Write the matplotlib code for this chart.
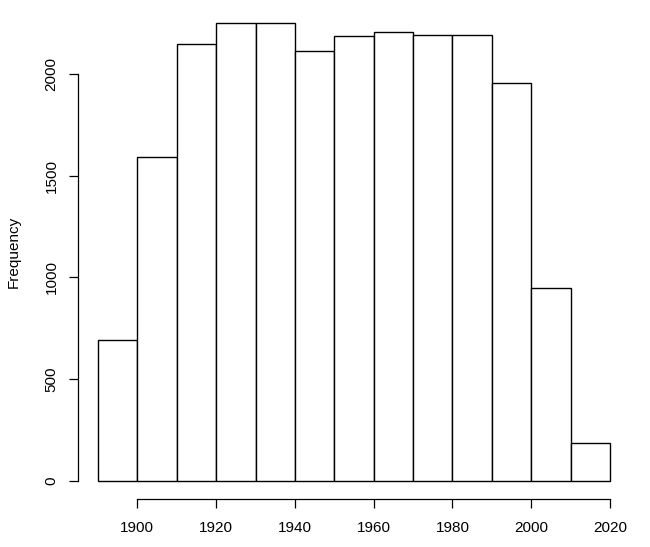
import matplotlib
matplotlib.use("Agg")
import matplotlib.pyplot as plt

breaks = [1890, 1900, 1910, 1920, 1930, 1940, 1950, 1960, 1970, 1980, 1990, 2000, 2010, 2020]
counts = [691, 1590, 2148, 2250, 2250, 2112, 2186, 2205, 2190, 2190, 1954, 950, 187]
xticks = [1900, 1920, 1940, 1960, 1980, 2000, 2020]
yticks = [0, 500, 1000, 1500, 2000]

plt.rcParams['font.family'] = ['Liberation Sans', 'DejaVu Sans']

W, H = 650, 547
fig = plt.figure(figsize=(W / 100, H / 100), dpi=100)
left, right, bottom, top = 77.5, 630.5, 499, 5
ax = fig.add_axes([left / W, (H - bottom) / H, (right - left) / W, (bottom - top) / H])

ax.hist(breaks[:-1], bins=breaks, weights=counts, facecolor='white',
        edgecolor='black', linewidth=1.0)

span = breaks[-1] - breaks[0]
ax.set_xlim(breaks[0] - 0.04 * span, breaks[-1] + 0.04 * span)
ymax = max(counts)
ax.set_ylim(-0.04 * ymax, ymax * 1.04)

for s in ['top', 'right']:
    ax.spines[s].set_visible(False)
ax.spines['left'].set_bounds(yticks[0], yticks[-1])
ax.spines['bottom'].set_bounds(xticks[0], xticks[-1])
for s in ['left', 'bottom']:
    ax.spines[s].set_linewidth(0.9)

ax.set_xticks(xticks)
ax.set_yticks(yticks)
ax.set_yticklabels([str(v) for v in yticks], rotation=90, va='center')
ax.tick_params(axis='both', length=6.5, width=0.9, labelsize=11, color='black')
ax.tick_params(axis='x', pad=9)
ax.tick_params(axis='y', pad=7)
ax.set_ylabel('Frequency', fontsize=11, labelpad=17)

fig.savefig('out.png', dpi=100)
